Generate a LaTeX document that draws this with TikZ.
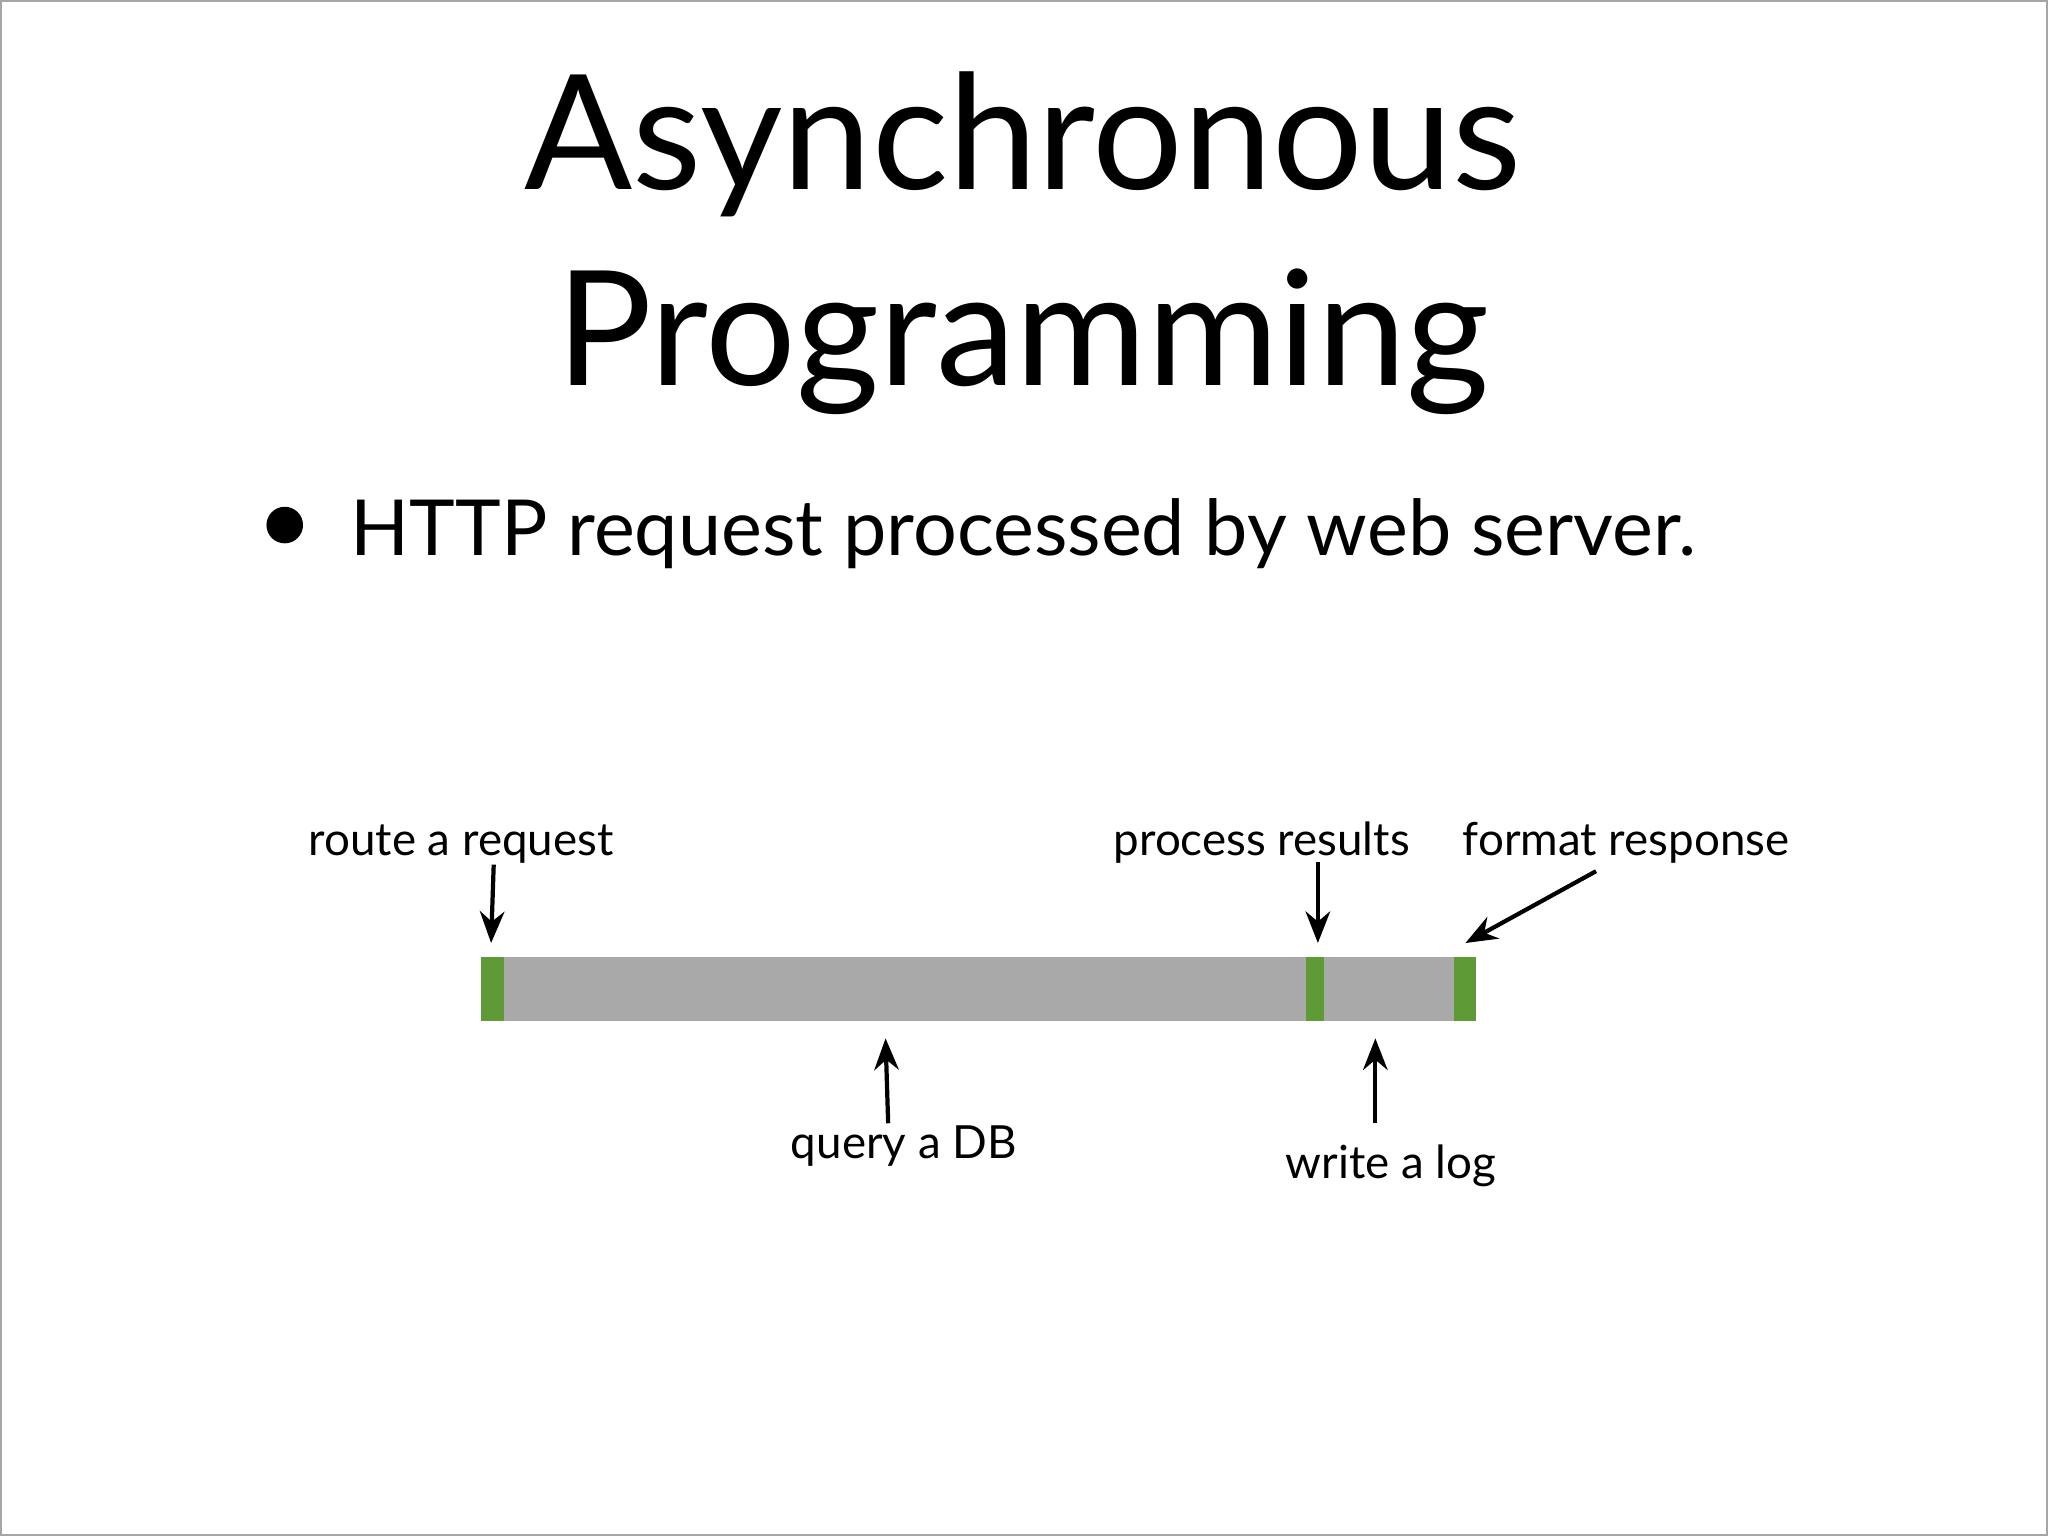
\documentclass[tikz,border=0pt]{standalone}
\usepackage{fontspec}
\setmainfont{Lato}
\usetikzlibrary{arrows.meta}
\definecolor{bargray}{HTML}{A9A9A9}
\definecolor{bargreen}{HTML}{5E9A35}
\tikzset{lbl/.style={font=\fontsize{13}{15}\selectfont,anchor=base,inner sep=0},
 arr/.style={-{Stealth[length=9pt,width=7pt]},line width=1.2pt}}
\begin{document}
\begin{tikzpicture}[x=0.0130612cm,y=-0.0130612cm]
\useasboundingbox (0,0) rectangle (1568,1176);
\draw[gray!70,line width=0.5pt] (0.5,0.5) rectangle (1567.5,1175.5);
\node[anchor=base,inner sep=0,font=\fontsize{45.5}{50}\selectfont] (t1) at (783,145) {Asynchronous};
\node[anchor=base,inner sep=0,font=\fontsize{45.5}{50}\selectfont] (t2) at (783,295) {Programming};
\fill (218,402) circle (14) coordinate (b);
\node[anchor=base west,inner sep=0,font=\fontsize{22}{24}\selectfont] (bt) at (268,425) {HTTP request processed by web server.};
\fill[bargray] (368,733) rectangle (1130,782);
\fill[bargreen] (368,733) rectangle (386,782);
\fill[bargreen] (1000,733) rectangle (1014,782);
\fill[bargreen] (1113,733) rectangle (1130,782);
\node[lbl] (l1) at (353,655) {route a request};
\node[lbl] (l2) at (966,655) {process results};
\node[lbl] (l3) at (1245,655) {format response};
\node[lbl] (l4) at (692,887) {query a DB};
\node[lbl] (l5) at (1065,902) {write a log};
\coordinate (a1s) at (378,662); \coordinate (a1e) at (376,722);
\coordinate (a2s) at (1009,660); \coordinate (a2e) at (1009,722);
\coordinate (a3s) at (1222,667); \coordinate (a3e) at (1122,722);
\coordinate (a4s) at (680,860); \coordinate (a4e) at (678,795);
\coordinate (a5s) at (1053,860); \coordinate (a5e) at (1053,795);
\draw[arr] (a1s) -- (a1e);
\draw[arr] (a2s) -- (a2e);
\draw[arr] (a3s) -- (a3e);
\draw[arr] (a4s) -- (a4e);
\draw[arr] (a5s) -- (a5e);
\end{tikzpicture}
\end{document}
